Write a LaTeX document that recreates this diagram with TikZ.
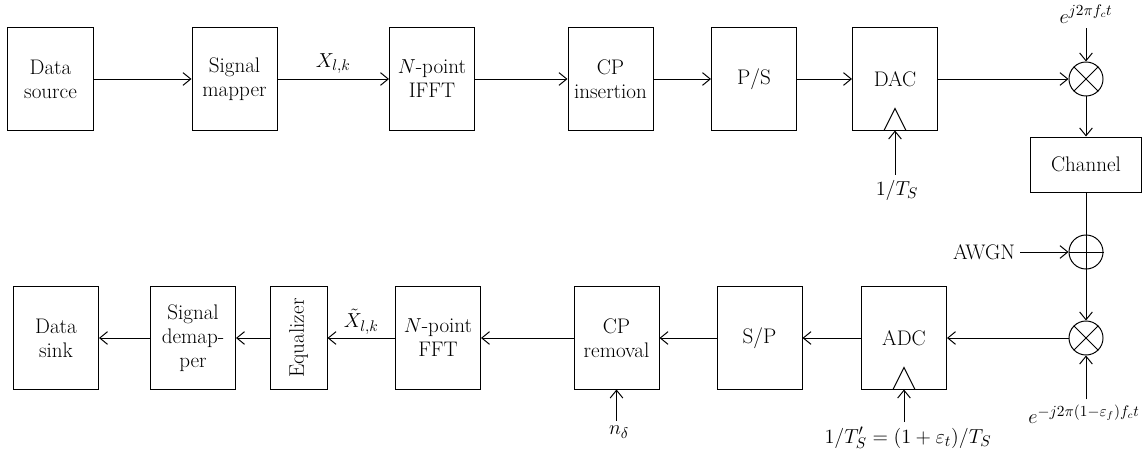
\documentclass[tikz,border=0pt]{standalone}
\usepackage{fontspec}
\usetikzlibrary{arrows.meta}
\usetikzlibrary{calc}

\begin{document}
\begin{tikzpicture}[x=0.025cm, y=0.025cm, >={Straight Barb[length=5.5pt,width=9pt]}, line width=0.7pt,
    font=\fontsize{15}{17}\selectfont,
    blk/.style={draw, minimum width=2.125cm, minimum height=2.55cm, align=center, inner sep=1pt},
    mixer/.style={draw, circle, minimum size=0.85cm, inner sep=0pt}]

    \useasboundingbox (0,0) rectangle (1142,-453);

    % transmitter
    \node[blk] (src) at (50.5,-79) {Data\\source};
    \node[blk] (map) at (234.5,-79) {Signal\\mapper};
    \node[blk] (ifft) at (432,-79) {$N$-point\\IFFT};
    \node[blk] (cpi) at (610.5,-79) {CP\\insertion};
    \node[blk] (ps) at (754,-79) {P/S};
    \node[blk] (dac) at (895,-79) {DAC};
    \node[mixer] (mix1) at (1086,-79) {};
    \node (lo1) at (1086,-14) {$e^{j2\pi f_c t}$};
    \node (clkt) at (897,-190) {$1/T_S$};

    \draw[->] (src) -- (map);
    \draw[->] (map) -- node[above]{$X_{l,k}$} (ifft);
    \draw[->] (ifft) -- (cpi);
    \draw[->] (cpi) -- (ps);
    \draw[->] (ps) -- (dac);
    \draw[->] (dac) -- (mix1);
    \draw[->] (lo1) -- (mix1);
    \draw[->] (clkt.north -| dac.south) -- (dac.south);
    \draw ($(dac.south)+(-11,0)$) -- ($(dac.south)+(0,22)$) -- ($(dac.south)+(11,0)$);
    \draw (mix1.north west) -- (mix1.south east) (mix1.north east) -- (mix1.south west);

    % channel
    \node[draw, minimum width=2.775cm, minimum height=1.375cm] (chan) at (1086,-164.5) {Channel};
    \node[mixer] (add) at (1086,-252) {};
    \node (awgn) at (984,-252) {AWGN};
    \draw (add.north) -- (add.south) (add.west) -- (add.east);

    \draw[->] (mix1) -- (chan);
    \draw (chan) -- (add);
    \draw[->] (awgn) -- (add);

    % receiver
    \node[mixer] (mix2) at (1086,-338) {};
    \node (lo2) at (1084,-414) {$e^{-j2\pi(1-\varepsilon_f) f_c t}$};
    \node[blk] (adc) at (904,-338) {ADC};
    \node (clkr) at (908,-438) {$1/T'_S = (1+\varepsilon_t)/T_S$};
    \node[blk] (sp) at (759.5,-338) {S/P};
    \node[blk] (cpr) at (616.5,-338) {CP\\removal};
    \node (ndelta) at (619,-432) {$n_\delta$};
    \node[blk] (fft) at (438,-338) {$N$-point\\FFT};
    \node[blk, minimum width=1.425cm] (eq) at (298.5,-338) {\rotatebox{90}{Equalizer}};
    \node[blk] (dem) at (193,-338) {Signal\\demap-\\per};
    \node[blk] (sink) at (56,-338) {Data\\sink};

    \draw[->] (add) -- (mix2);
    \draw (mix2.north west) -- (mix2.south east) (mix2.north east) -- (mix2.south west);
    \draw[->] (lo2.north -| mix2.south) -- (mix2);
    \draw[->] (mix2) -- (adc);
    \draw[->] (clkr.north -| adc.south) -- (adc.south);
    \draw ($(adc.south)+(-11,0)$) -- ($(adc.south)+(0,22)$) -- ($(adc.south)+(11,0)$);
    \draw[->] (adc) -- (sp);
    \draw[->] (sp) -- (cpr);
    \draw[->] (ndelta.north -| cpr.south) -- (cpr.south);
    \draw[->] (cpr) -- (fft);
    \draw[->] (fft) -- node[above, inner sep=2pt]{$\tilde{X}_{l,k}$} (eq);
    \draw[->] (eq) -- (dem);
    \draw[->] (dem) -- (sink);

\end{tikzpicture}
\end{document}
